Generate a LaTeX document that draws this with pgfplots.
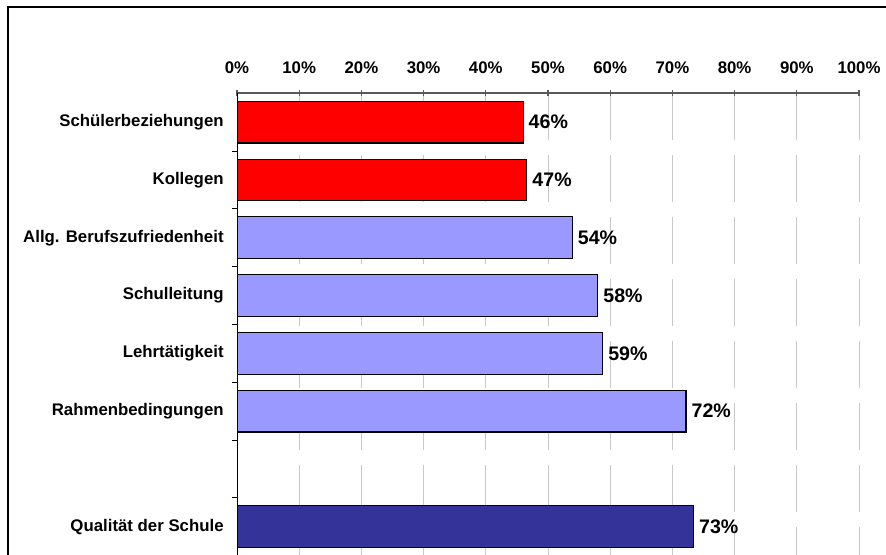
\documentclass[border=0pt]{standalone}
\usepackage{fontspec}
\setmainfont{Liberation Sans}
\usepackage{pgfplots}
\pgfplotsset{compat=1.18}

\definecolor{barred}{HTML}{FF0000}
\definecolor{barlilac}{HTML}{9999FF}
\definecolor{barnavy}{HTML}{333399}
\definecolor{gridgray}{HTML}{C8C8C8}
\definecolor{axisgray}{HTML}{5A5A5A}

\begin{document}
\begin{tikzpicture}
\useasboundingbox (0,0) rectangle (443pt,277.5pt);
% outer frame (runs off the right and bottom edge)
\draw[line width=1.1pt] (4pt,-5pt) -- (4pt,274pt) -- (450pt,274pt);
\begin{axis}[
    at={(118.5pt,-0.3pt)}, anchor=south west,
    scale only axis, width=311pt, height=231.2pt,
    xbar, bar width=0.72,
    xmin=0, xmax=100, ymin=0.5, ymax=8.5,
    axis x line*=top, axis y line*=left,
    x axis line style={axisgray, line width=0.8pt},
    y axis line style={black, line width=0.5pt},
    xtick={0,10,...,100},
    xticklabels={0\%,10\%,20\%,30\%,40\%,50\%,60\%,70\%,80\%,90\%,100\%},
    xtick align=center, major tick length=3pt,
    x tick style={axisgray, line width=0.6pt},
    xticklabel style={font=\bfseries\fontsize{8.4}{9}\selectfont, inner sep=0pt, yshift=8pt},
    ytick={1,...,8},
    yticklabels={Qualität der Schule,{},Rahmenbedingungen,Lehrtätigkeit,Schulleitung,Allg. Berufszufriedenheit,Kollegen,Schülerbeziehungen},
    minor ytick={1.5,2.5,...,7.5},
    ytick align=outside, minor tick length=2.5pt,
    every major y tick/.style={draw=none},
    every minor y tick/.style={black, line width=0.5pt},
    yticklabel style={font=\bfseries\fontsize{8.4}{9}\selectfont, inner sep=0pt, xshift=-3.5pt},
    xmajorgrids,
    major x grid style={gridgray, line width=0.5pt, dash pattern=on 23.5pt off 7.5pt, dash phase=9.2pt},
    point meta=x,
    nodes near coords={\pgfmathprintnumber[fixed,precision=0,assume math mode=true]{\pgfplotspointmeta}\%},
    every node near coord/.append style={font=\bfseries\fontsize{9.8}{11}\selectfont, anchor=west, inner xsep=2.5pt, black},
]
\addplot[bar shift=0pt, fill=barred, draw=black, line width=0.6pt] coordinates {
    (46.0,8) (46.6,7) };
\addplot[bar shift=0pt, fill=barlilac, draw=black, line width=0.6pt] coordinates {
    (53.9,6) (58.0,5) (58.8,4) (72.2,3) };
\addplot[bar shift=0pt, fill=barnavy, draw=black, line width=0.6pt] coordinates {
    (73.4,1) };
\end{axis}
\end{tikzpicture}
\end{document}
